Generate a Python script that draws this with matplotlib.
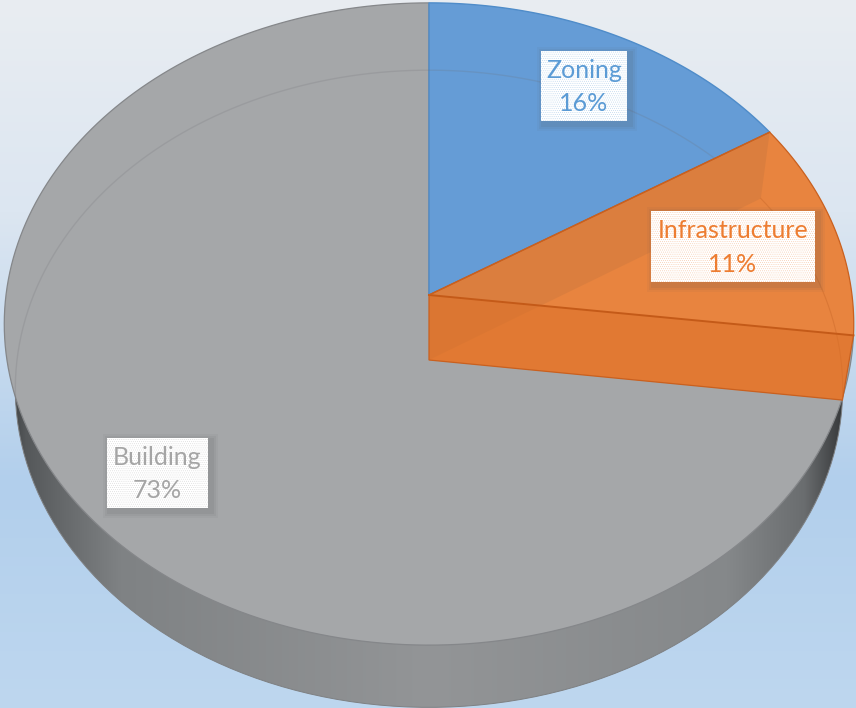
import numpy as np
import matplotlib
matplotlib.use("Agg")
import matplotlib.pyplot as plt
from matplotlib.colors import LinearSegmentedColormap
from matplotlib.patches import Polygon, Rectangle

# slices
categories = ["Zoning", "Infrastructure", "Building"]
shares = [16, 11, 73]

W, H = 856, 708
CX = 429
K = 0.0903  # perspective


def rim(theta, lower=False):
    """theta in degrees, clockwise from 12 o'clock -> pixel coords"""
    t = np.radians(theta)
    x, y = np.sin(t), np.cos(t)
    w = 1 + K * y
    if lower:
        return CX + 412 * x / w, 360 - 316 * y / w
    return CX + 423 * x / w, 295 - 318.5 * y / w


def arc(a, b, lower=False, n=200):
    xs, ys = rim(np.linspace(a, b, n), lower)
    return np.column_stack([xs, ys])


def gradient(ax, stops, horizontal, clip=None, zorder=1):
    cmap = LinearSegmentedColormap.from_list("g", stops, N=1024)
    g = np.linspace(0, 1, 1024)
    g = g[None, :] if horizontal else g[:, None]
    im = ax.imshow(g, cmap=cmap, extent=(0, W, H, 0), aspect="auto", zorder=zorder)
    if clip is not None:
        patch = Polygon(clip, closed=True, transform=ax.transData, fc="none", ec="none")
        ax.add_patch(patch)
        im.set_clip_path(patch)


def label_box(ax, x0, y0, x1, y1, text, color):
    for off, a in [(7, 0.05), (5, 0.07), (3, 0.09)]:
        ax.add_patch(Rectangle((x0 - off + 3, y0 - off + 3), x1 - x0 + 2 * off, y1 - y0 + 2 * off,
                               fc="#555555", ec="none", alpha=a, zorder=8))
    ax.add_patch(Rectangle((x0, y0), x1 - x0, y1 - y0, fc="white", ec="none", zorder=9))
    ax.add_patch(Rectangle((x0, y0), x1 - x0, y1 - y0, fc="none", ec=color, alpha=0.45,
                           hatch="........", lw=0, zorder=9))
    ax.text((x0 + x1) / 2, (y0 + y1) / 2 + 1, text, color=color, ha="center", va="center",
            fontsize=18, family="Lato", linespacing=1.53, zorder=10)


plt.rcParams["hatch.linewidth"] = 0.3
fig = plt.figure(figsize=(W / 100, H / 100), dpi=100)
ax = fig.add_axes([0, 0, 1, 1])

gradient(ax, [(0, "#E9EDF2"), (0.3, "#DCE6F1"), (0.68, "#B2CFEC"), (1, "#BED7EF")], False, zorder=0)

# slice angles from the shares
edges = np.cumsum([0] + shares) * 3.6
zon_end = edges[1]
inf_end = edges[2]

# side of the disc
gradient(ax, [(0, "#303234"), (0.03, "#55585A"), (0.14, "#7F8284"), (0.5, "#939597"),
              (0.85, "#85888A"), (0.94, "#6A6D6F"), (0.985, "#37393B"), (1, "#303234")],
         True, clip=arc(0, 360, lower=True), zorder=1)
ax.plot(*arc(0, 360, lower=True).T, color="#7E8082", lw=0.7, zorder=1.5)

# building
vertex = np.array([[CX, 295]])
low_v = np.array([[CX, 360]])
gray = np.vstack([vertex, arc(inf_end, 360)])
ax.add_patch(Polygon(gray, closed=True, fc="#A5A7A9", ec="#85878A", lw=0.9, zorder=2))

# zoning
blue = np.vstack([vertex, arc(0, zon_end)])
ax.add_patch(Polygon(blue, closed=True, fc="#659CD6", ec="#4F8CC9", lw=1.0, zorder=3))

# back edge of the bottom showing through
ax.plot(*arc(-98, zon_end, lower=True).T, color="#6F6F75", alpha=0.2, lw=1.0, zorder=4)

# infrastructure top, walls on top of it
front = np.vstack([vertex, arc(inf_end, inf_end, n=1), arc(inf_end, inf_end, lower=True, n=1), low_v])
ax.add_patch(Polygon(front, closed=True, fc="#E8843F", ec="none", zorder=4.9))
orange = np.vstack([vertex, arc(zon_end, inf_end)])
ax.add_patch(Polygon(orange, closed=True, fc="#E8843F", ec="none", zorder=5))
back_wall = np.vstack([vertex, arc(zon_end, zon_end, n=1), arc(zon_end, zon_end, lower=True, n=1), low_v])
ax.add_patch(Polygon(back_wall, closed=True, fc="#C0733C", ec="none", alpha=0.32, zorder=5.2))
ax.plot(*arc(zon_end, inf_end, lower=True).T, color="#C9682A", alpha=0.45, lw=0.8, zorder=5.3)
ax.add_patch(Polygon(front, closed=True, fc="#DC7028", ec="none", alpha=0.5, zorder=5.5))
ax.add_patch(Polygon(np.vstack([vertex, arc(zon_end, inf_end), arc(inf_end, inf_end, lower=True, n=1), low_v]),
                     closed=True, fc="none", ec="#C9601F", lw=0.9, zorder=6))
ax.plot([CX, rim(inf_end)[0]], [295, rim(inf_end)[1]], color="#C45A18", lw=1.4, zorder=6)
ax.plot([CX, rim(zon_end)[0]], [295, rim(zon_end)[1]], color="#C9601F", lw=1.0, zorder=6)

label_box(ax, 541, 51, 627, 121, f"{categories[0]}\n{shares[0]}%", "#5B9BD5")
label_box(ax, 651, 211, 815, 282, f"{categories[1]}\n{shares[1]}%", "#ED7D31")
label_box(ax, 107, 438, 208, 508, f"{categories[2]}\n{shares[2]}%", "#A5A5A5")

ax.set_xlim(0, W)
ax.set_ylim(H, 0)
ax.axis("off")
fig.savefig("out.png", dpi=100)
